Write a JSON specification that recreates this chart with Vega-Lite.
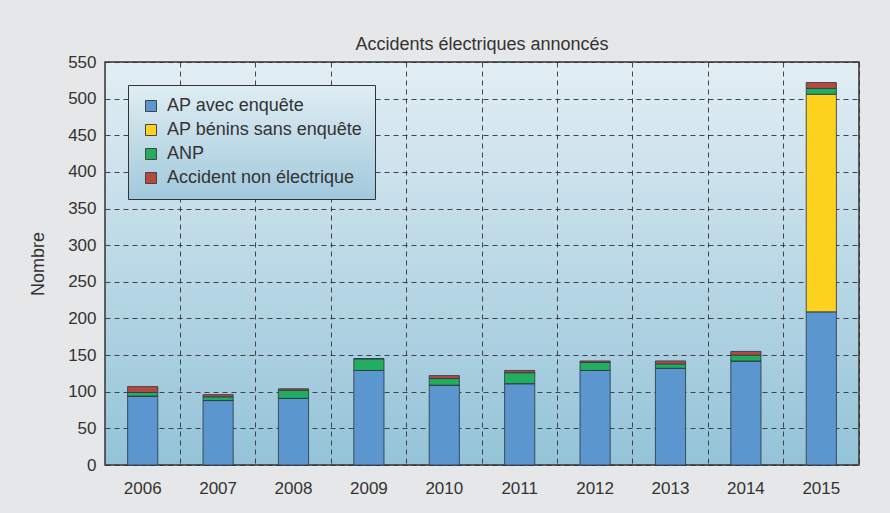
{
  "$schema": "https://vega.github.io/schema/vega-lite/v6.json",
  "autosize": {"type": "none"},
  "width": 754,
  "height": 403,
  "padding": {"left": 105, "top": 62, "right": 31, "bottom": 48},
  "background": "#e6e7e8",
  "title": {
    "text": "Accidents électriques annoncés",
    "font": "Liberation Sans",
    "fontSize": 18,
    "fontWeight": "normal",
    "color": "#333333",
    "offset": -1,
    "anchor": "middle"
  },
  "config": {
    "view": {
      "stroke": "#333333",
      "strokeWidth": 1.5,
      "fill": {"gradient": "linear", "x1": 0, "y1": 0, "x2": 0, "y2": 1,
        "stops": [{"offset": 0, "color": "#e2eef4"}, {"offset": 1, "color": "#94c3d8"}]}
    },
    "axis": {
      "labelFont": "Liberation Sans",
      "labelFontSize": 17,
      "labelColor": "#333333",
      "titleFont": "Liberation Sans",
      "titleFontSize": 18,
      "titleFontWeight": "normal",
      "titleColor": "#333333",
      "ticks": false,
      "domain": false,
      "gridColor": "#333333",
      "gridDash": [5, 4],
      "gridWidth": 1,
      "gridOpacity": 0.9
    },
    "legend": {
      "labelFont": "Liberation Sans",
      "labelFontSize": 18,
      "labelColor": "#333333"
    }
  },
  "data": {
    "values": [
      {"annee": "2006", "categorie": "AP avec enquête", "nombre": 94},
      {"annee": "2006", "categorie": "AP bénins sans enquête", "nombre": 0},
      {"annee": "2006", "categorie": "ANP", "nombre": 5},
      {"annee": "2006", "categorie": "Accident non électrique", "nombre": 8},
      {"annee": "2007", "categorie": "AP avec enquête", "nombre": 88},
      {"annee": "2007", "categorie": "AP bénins sans enquête", "nombre": 0},
      {"annee": "2007", "categorie": "ANP", "nombre": 5},
      {"annee": "2007", "categorie": "Accident non électrique", "nombre": 3},
      {"annee": "2008", "categorie": "AP avec enquête", "nombre": 91},
      {"annee": "2008", "categorie": "AP bénins sans enquête", "nombre": 0},
      {"annee": "2008", "categorie": "ANP", "nombre": 11},
      {"annee": "2008", "categorie": "Accident non électrique", "nombre": 2},
      {"annee": "2009", "categorie": "AP avec enquête", "nombre": 129},
      {"annee": "2009", "categorie": "AP bénins sans enquête", "nombre": 0},
      {"annee": "2009", "categorie": "ANP", "nombre": 16},
      {"annee": "2009", "categorie": "Accident non électrique", "nombre": 0},
      {"annee": "2010", "categorie": "AP avec enquête", "nombre": 109},
      {"annee": "2010", "categorie": "AP bénins sans enquête", "nombre": 0},
      {"annee": "2010", "categorie": "ANP", "nombre": 9},
      {"annee": "2010", "categorie": "Accident non électrique", "nombre": 4},
      {"annee": "2011", "categorie": "AP avec enquête", "nombre": 111},
      {"annee": "2011", "categorie": "AP bénins sans enquête", "nombre": 0},
      {"annee": "2011", "categorie": "ANP", "nombre": 15},
      {"annee": "2011", "categorie": "Accident non électrique", "nombre": 3},
      {"annee": "2012", "categorie": "AP avec enquête", "nombre": 129},
      {"annee": "2012", "categorie": "AP bénins sans enquête", "nombre": 0},
      {"annee": "2012", "categorie": "ANP", "nombre": 11},
      {"annee": "2012", "categorie": "Accident non électrique", "nombre": 2},
      {"annee": "2013", "categorie": "AP avec enquête", "nombre": 132},
      {"annee": "2013", "categorie": "AP bénins sans enquête", "nombre": 0},
      {"annee": "2013", "categorie": "ANP", "nombre": 6},
      {"annee": "2013", "categorie": "Accident non électrique", "nombre": 4},
      {"annee": "2014", "categorie": "AP avec enquête", "nombre": 142},
      {"annee": "2014", "categorie": "AP bénins sans enquête", "nombre": 0},
      {"annee": "2014", "categorie": "ANP", "nombre": 8},
      {"annee": "2014", "categorie": "Accident non électrique", "nombre": 5},
      {"annee": "2015", "categorie": "AP avec enquête", "nombre": 209},
      {"annee": "2015", "categorie": "AP bénins sans enquête", "nombre": 297},
      {"annee": "2015", "categorie": "ANP", "nombre": 8},
      {"annee": "2015", "categorie": "Accident non électrique", "nombre": 8}
    ]
  },
  "transform": [
    {"calculate": "indexof(['AP avec enquête', 'AP bénins sans enquête', 'ANP', 'Accident non électrique'], datum.categorie)", "as": "rang"}
  ],
  "layer": [
    {
      "mark": {"type": "rule", "opacity": 0},
      "encoding": {
        "x": {
          "field": "annee",
          "type": "ordinal",
          "title": null,
          "axis": {"orient": "top", "labels": false, "grid": true, "bandPosition": 1.75, "ticks": false, "domain": false}
        }
      }
    },
    {
      "mark": {"type": "bar", "stroke": "#2e3b47", "strokeWidth": 1, "strokeOpacity": 0.85},
      "encoding": {
        "x": {
          "field": "annee",
          "type": "ordinal",
          "title": null,
          "scale": {"paddingInner": 0.6, "paddingOuter": 0.3},
          "axis": {"orient": "bottom", "labelAngle": 0, "labelPadding": 15, "grid": false}
        },
        "y": {
          "field": "nombre",
          "type": "quantitative",
          "stack": "zero",
          "title": "Nombre",
          "scale": {"domain": [0, 550], "nice": false},
          "axis": {"values": [0, 50, 100, 150, 200, 250, 300, 350, 400, 450, 500, 550], "labelPadding": 9, "titlePadding": 20, "grid": true}
        },
        "order": {"field": "rang", "type": "quantitative", "sort": "ascending"},
        "color": {
          "field": "categorie",
          "type": "nominal",
          "sort": ["AP avec enquête", "AP bénins sans enquête", "ANP", "Accident non électrique"],
          "scale": {
            "domain": ["AP avec enquête", "AP bénins sans enquête", "ANP", "Accident non électrique"],
            "range": ["#5b96cf", "#fdd21f", "#22ad5f", "#b8473f"]
          },
          "legend": {
            "title": null,
            "orient": "none",
            "legendX": 23,
            "legendY": 23,
            "padding": 12,
            "symbolType": "square",
            "symbolSize": 121,
            "symbolStrokeColor": "#444444",
            "symbolStrokeWidth": 1,
            "symbolOpacity": 1,
            "symbolOffset": 2,
            "rowPadding": 6,
            "labelOffset": 7,
            "labelLimit": 300,
            "strokeColor": "#333333",
            "fillColor": "#c3dde9",
            "encode": {
              "legend": {
                "update": {
                  "fill": {"value": {"gradient": "linear", "x1": 0, "y1": 0, "x2": 0, "y2": 1,
                    "stops": [{"offset": 0, "color": "#e0edf3"}, {"offset": 1, "color": "#a0c9dc"}]}}
                }
              }
            }
          }
        }
      }
    }
  ],
  "resolve": {"axis": {"x": "independent"}}
}
